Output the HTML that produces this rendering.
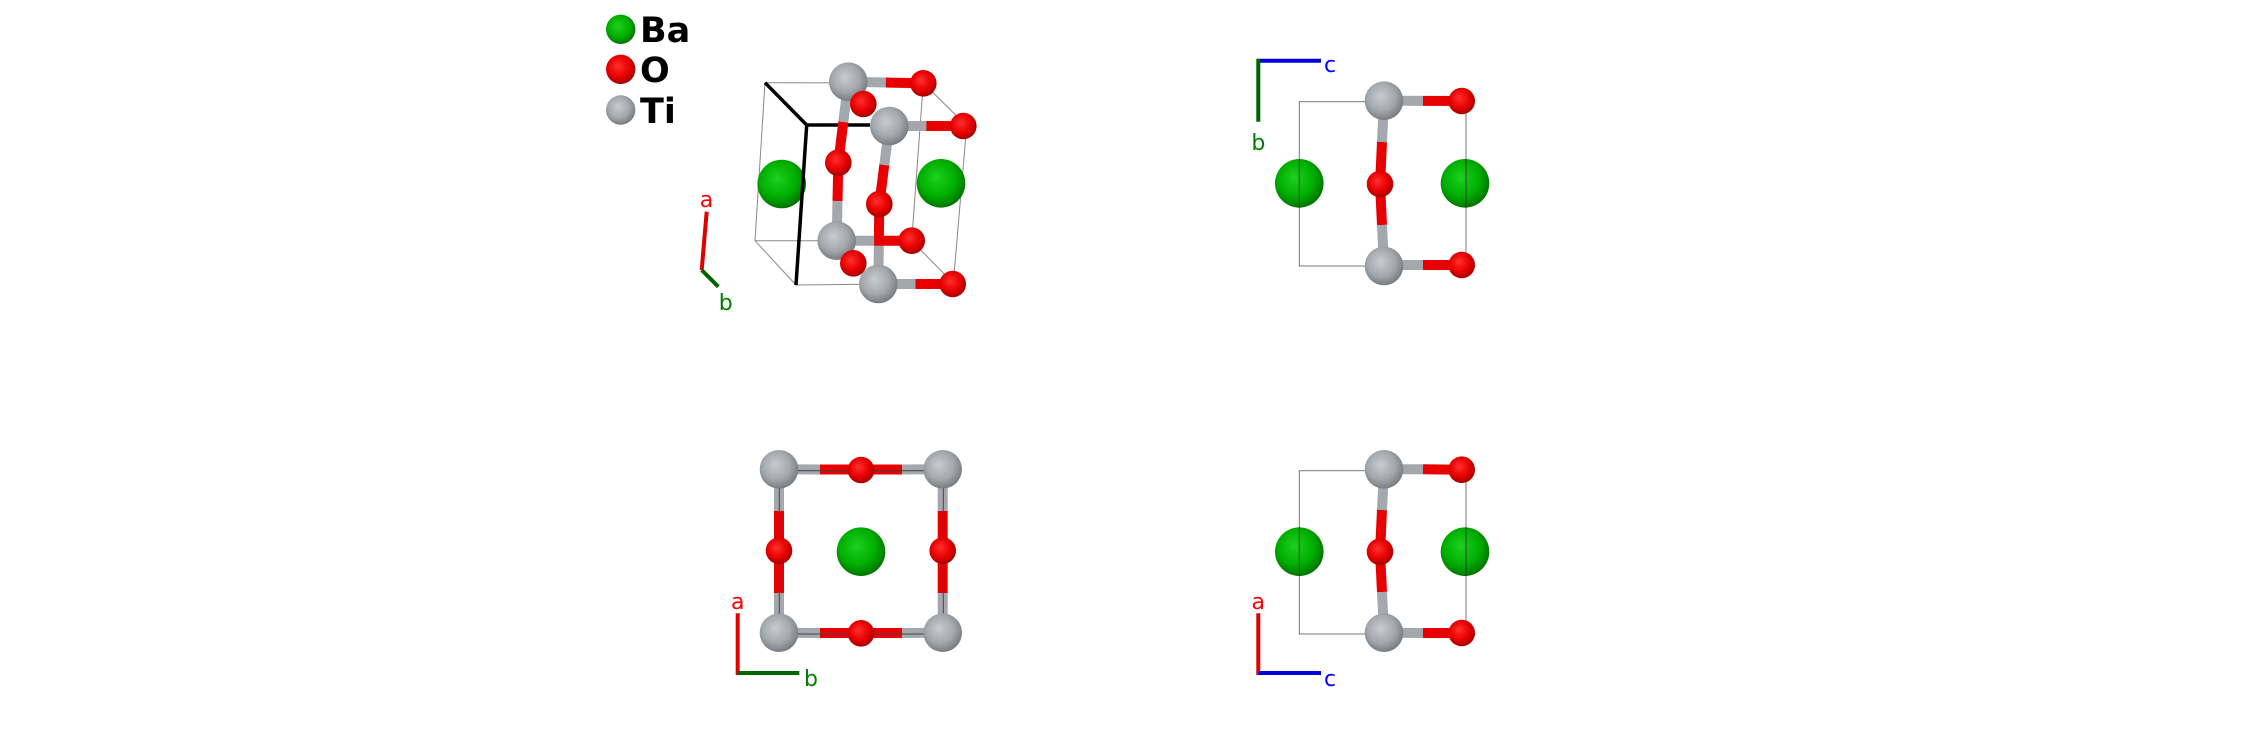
<!DOCTYPE html>
<html><head><meta charset="utf-8"><style>
html,body{margin:0;padding:0;background:#fff;}
svg{display:block;}
text{font-family:"DejaVu Sans","Liberation Sans",sans-serif;}
</style></head><body>
<svg width="2244" height="736" viewBox="0 0 2244 736" xmlns="http://www.w3.org/2000/svg">
<defs>
<radialGradient id="gT" cx="45%" cy="42%" r="60%" fx="40%" fy="38%"><stop offset="0" stop-color="#c8ccd0"/><stop offset="0.6" stop-color="#a4a8ad"/><stop offset="1" stop-color="#75797d"/></radialGradient>
<radialGradient id="gO" cx="45%" cy="42%" r="60%" fx="40%" fy="38%"><stop offset="0" stop-color="#ff3030"/><stop offset="0.6" stop-color="#e80000"/><stop offset="1" stop-color="#a00000"/></radialGradient>
<radialGradient id="gB" cx="45%" cy="42%" r="60%" fx="40%" fy="38%"><stop offset="0" stop-color="#20d020"/><stop offset="0.6" stop-color="#00b000"/><stop offset="1" stop-color="#007000"/></radialGradient>
</defs>

<!-- Legend -->
<circle cx="620.7" cy="29.3" r="14.7" fill="url(#gB)"/>
<circle cx="620.7" cy="69.3" r="14.7" fill="url(#gO)"/>
<circle cx="620.7" cy="110" r="14.7" fill="url(#gT)"/>
<text x="640" y="42" font-size="35" font-weight="bold" fill="#000">Ba</text>
<text x="640" y="82" font-size="35" font-weight="bold" fill="#000">O</text>
<text x="640" y="123" font-size="35" font-weight="bold" fill="#000">Ti</text>

<!-- Panel 1: 3D -->
<g stroke="#888" stroke-width="1" fill="none">
<line x1="765" y1="82.7" x2="923.3" y2="83"/>
<line x1="923.3" y1="83" x2="966.7" y2="126"/>
<line x1="765" y1="82.7" x2="755" y2="240.7"/>
<line x1="755" y1="240.7" x2="796" y2="285"/>
<line x1="755" y1="240.7" x2="911.7" y2="240.7"/>
<line x1="911.7" y1="240.7" x2="953.3" y2="283.3"/>
<line x1="796" y1="285" x2="953.3" y2="283.3"/>
<line x1="923.3" y1="83" x2="911.7" y2="240.7"/>
<line x1="966.7" y1="126" x2="953.3" y2="283.3"/>
</g>
<circle cx="781.7" cy="184" r="24.3" fill="url(#gB)"/>
<circle cx="941" cy="183.3" r="24.3" fill="url(#gB)"/>
<g stroke="#000" stroke-width="3.5" fill="none">
<line x1="765" y1="82.7" x2="806.7" y2="125"/>
<line x1="806.7" y1="125" x2="870" y2="125"/>
<line x1="806.7" y1="125" x2="796" y2="285"/>
</g>
<g stroke-width="10" stroke-linecap="butt">
<line x1="848.3" y1="81.7" x2="885.8" y2="82.5" stroke="#a4a8ad"/><line x1="885.8" y1="82.5" x2="923.3" y2="83.3" stroke="#e80000"/>
<line x1="848.3" y1="81.7" x2="843.3" y2="122" stroke="#a4a8ad"/><line x1="843.3" y1="122" x2="838.3" y2="162.7" stroke="#e80000"/>
<line x1="838.3" y1="162.7" x2="837.5" y2="201" stroke="#e80000"/><line x1="837.5" y1="201" x2="836.7" y2="240.7" stroke="#a4a8ad"/>
<line x1="889.3" y1="126" x2="926.3" y2="126" stroke="#a4a8ad"/><line x1="926.3" y1="126" x2="963.3" y2="126" stroke="#e80000"/>
<line x1="889.3" y1="126" x2="884.3" y2="165" stroke="#a4a8ad"/><line x1="884.3" y1="165" x2="879.3" y2="204" stroke="#e80000"/>
<line x1="879.3" y1="204" x2="878.8" y2="244" stroke="#e80000"/><line x1="878.8" y1="244" x2="878.3" y2="284" stroke="#a4a8ad"/>
<line x1="836.7" y1="240.7" x2="874.2" y2="240.7" stroke="#a4a8ad"/><line x1="874.2" y1="240.7" x2="911.7" y2="240.7" stroke="#e80000"/>
<line x1="836.7" y1="240.7" x2="845" y2="252" stroke="#a4a8ad"/><line x1="845" y1="252" x2="853.3" y2="263.3" stroke="#e80000"/>
<line x1="878.3" y1="284" x2="915.5" y2="284" stroke="#a4a8ad"/><line x1="915.5" y1="284" x2="952.7" y2="284" stroke="#e80000"/>
<line x1="848.3" y1="81.7" x2="856" y2="93" stroke="#a4a8ad"/><line x1="856" y1="93" x2="863.3" y2="104" stroke="#e80000"/>
</g>
<circle cx="848.3" cy="81.7" r="19.3" fill="url(#gT)"/>
<circle cx="923.3" cy="83.3" r="13.3" fill="url(#gO)"/>
<circle cx="863.3" cy="104" r="13.3" fill="url(#gO)"/>
<circle cx="889.3" cy="126" r="19.3" fill="url(#gT)"/>
<circle cx="963.3" cy="126" r="13.3" fill="url(#gO)"/>
<circle cx="838.3" cy="162.7" r="13.3" fill="url(#gO)"/>
<circle cx="879.3" cy="204" r="13.3" fill="url(#gO)"/>
<circle cx="836.7" cy="240.7" r="19.3" fill="url(#gT)"/>
<circle cx="911.7" cy="240.7" r="13.3" fill="url(#gO)"/>
<circle cx="853.3" cy="263.3" r="13.3" fill="url(#gO)"/>
<circle cx="878.3" cy="284" r="19.3" fill="url(#gT)"/>
<circle cx="952.7" cy="284" r="13.3" fill="url(#gO)"/>
<line x1="706.7" y1="211.7" x2="701.7" y2="270" stroke="#e00000" stroke-width="4"/>
<line x1="701.7" y1="270" x2="718.3" y2="286.7" stroke="#006400" stroke-width="4"/>
<text x="706.5" y="207" font-size="22" fill="#ff0000" text-anchor="middle">a</text>
<text x="725.7" y="310" font-size="22" fill="#008000" text-anchor="middle">b</text>

<!-- Panel 2: top-right -->
<rect x="1299.3" y="101.7" width="166.7" height="164.3" fill="none" stroke="#777" stroke-width="1"/>
<g stroke-width="10">
<line x1="1384" y1="100.7" x2="1423" y2="100.9" stroke="#a4a8ad"/><line x1="1423" y1="100.9" x2="1461.7" y2="101" stroke="#e80000"/>
<line x1="1384" y1="265" x2="1423" y2="265" stroke="#a4a8ad"/><line x1="1423" y1="265" x2="1461.7" y2="265" stroke="#e80000"/>
<line x1="1384" y1="100.7" x2="1382" y2="142" stroke="#a4a8ad"/><line x1="1382" y1="142" x2="1380" y2="184" stroke="#e80000"/>
<line x1="1380" y1="184" x2="1382" y2="225" stroke="#e80000"/><line x1="1382" y1="225" x2="1384" y2="266" stroke="#a4a8ad"/>
</g>
<circle cx="1299.3" cy="183.3" r="24.3" fill="url(#gB)"/>
<circle cx="1465" cy="183.3" r="24.3" fill="url(#gB)"/>
<line x1="1299.3" y1="159" x2="1299.3" y2="208" stroke="#333" stroke-width="1"/>
<line x1="1466" y1="159" x2="1466" y2="208" stroke="#333" stroke-width="1"/>
<circle cx="1384" cy="100.7" r="19.3" fill="url(#gT)"/>
<circle cx="1461.7" cy="101" r="13.3" fill="url(#gO)"/>
<circle cx="1380" cy="184" r="13.3" fill="url(#gO)"/>
<circle cx="1384" cy="266" r="19.3" fill="url(#gT)"/>
<circle cx="1461.7" cy="265" r="13.3" fill="url(#gO)"/>
<line x1="1258.3" y1="60.7" x2="1321" y2="60.7" stroke="#0000dd" stroke-width="4"/>
<line x1="1258.3" y1="58.7" x2="1258.3" y2="121.7" stroke="#006400" stroke-width="4"/>
<text x="1330" y="72" font-size="22" fill="#0000ff" text-anchor="middle">c</text>
<text x="1258.3" y="150" font-size="22" fill="#008000" text-anchor="middle">b</text>

<!-- Panel 3: bottom-left -->
<g stroke-width="10">
<line x1="779" y1="469.3" x2="820" y2="469.5" stroke="#a4a8ad"/><line x1="820" y1="469.5" x2="902" y2="469.5" stroke="#e80000"/><line x1="902" y1="469.5" x2="942.7" y2="469.3" stroke="#a4a8ad"/>
<line x1="779" y1="632.7" x2="820" y2="633" stroke="#a4a8ad"/><line x1="820" y1="633" x2="902" y2="633" stroke="#e80000"/><line x1="902" y1="633" x2="942.7" y2="632.7" stroke="#a4a8ad"/>
<line x1="779" y1="469.3" x2="779" y2="511" stroke="#a4a8ad"/><line x1="779" y1="511" x2="779" y2="593" stroke="#e80000"/><line x1="779" y1="593" x2="779" y2="632.7" stroke="#a4a8ad"/>
<line x1="942.7" y1="469.3" x2="942.7" y2="511" stroke="#a4a8ad"/><line x1="942.7" y1="511" x2="942.7" y2="593" stroke="#e80000"/><line x1="942.7" y1="593" x2="942.7" y2="632.7" stroke="#a4a8ad"/>
</g>
<rect x="779.3" y="470.7" width="164" height="163.3" fill="none" stroke="#444" stroke-width="1"/>
<circle cx="779" cy="469.3" r="19.3" fill="url(#gT)"/>
<circle cx="942.7" cy="469.3" r="19.3" fill="url(#gT)"/>
<circle cx="779" cy="632.7" r="19.3" fill="url(#gT)"/>
<circle cx="942.7" cy="632.7" r="19.3" fill="url(#gT)"/>
<circle cx="861" cy="470" r="13.3" fill="url(#gO)"/>
<circle cx="779" cy="550.7" r="13.3" fill="url(#gO)"/>
<circle cx="942.7" cy="550.7" r="13.3" fill="url(#gO)"/>
<circle cx="861" cy="633.3" r="13.3" fill="url(#gO)"/>
<circle cx="861" cy="551.7" r="24.3" fill="url(#gB)"/>
<line x1="737.7" y1="613.3" x2="737.7" y2="675" stroke="#e00000" stroke-width="4"/>
<line x1="737.7" y1="673" x2="799.3" y2="673" stroke="#006400" stroke-width="4"/>
<text x="737.7" y="609" font-size="22" fill="#ff0000" text-anchor="middle">a</text>
<text x="811" y="686" font-size="22" fill="#008000" text-anchor="middle">b</text>

<!-- Panel 4: bottom-right -->
<rect x="1299.3" y="470.7" width="166.7" height="163.3" fill="none" stroke="#777" stroke-width="1"/>
<g stroke-width="10">
<line x1="1384" y1="469.3" x2="1423" y2="469.3" stroke="#a4a8ad"/><line x1="1423" y1="469.3" x2="1461.7" y2="469.7" stroke="#e80000"/>
<line x1="1384" y1="632.7" x2="1423" y2="633" stroke="#a4a8ad"/><line x1="1423" y1="633" x2="1461.7" y2="633" stroke="#e80000"/>
<line x1="1384" y1="469.3" x2="1382" y2="510" stroke="#a4a8ad"/><line x1="1382" y1="510" x2="1380" y2="551.7" stroke="#e80000"/>
<line x1="1380" y1="551.7" x2="1382" y2="592" stroke="#e80000"/><line x1="1382" y1="592" x2="1384" y2="632.7" stroke="#a4a8ad"/>
</g>
<circle cx="1299.3" cy="551.7" r="24.3" fill="url(#gB)"/>
<circle cx="1465" cy="551.7" r="24.3" fill="url(#gB)"/>
<line x1="1299.3" y1="527" x2="1299.3" y2="576" stroke="#333" stroke-width="1"/>
<line x1="1466" y1="527" x2="1466" y2="576" stroke="#333" stroke-width="1"/>
<circle cx="1384" cy="469.3" r="19.3" fill="url(#gT)"/>
<circle cx="1461.7" cy="469.7" r="13.3" fill="url(#gO)"/>
<circle cx="1380" cy="551.7" r="13.3" fill="url(#gO)"/>
<circle cx="1384" cy="632.7" r="19.3" fill="url(#gT)"/>
<circle cx="1461.7" cy="633" r="13.3" fill="url(#gO)"/>
<line x1="1258.3" y1="613.3" x2="1258.3" y2="675" stroke="#e00000" stroke-width="4"/>
<line x1="1258.3" y1="673" x2="1321" y2="673" stroke="#0000dd" stroke-width="4"/>
<text x="1258.3" y="609" font-size="22" fill="#ff0000" text-anchor="middle">a</text>
<text x="1330" y="686" font-size="22" fill="#0000ff" text-anchor="middle">c</text>
</svg>
</body></html>
